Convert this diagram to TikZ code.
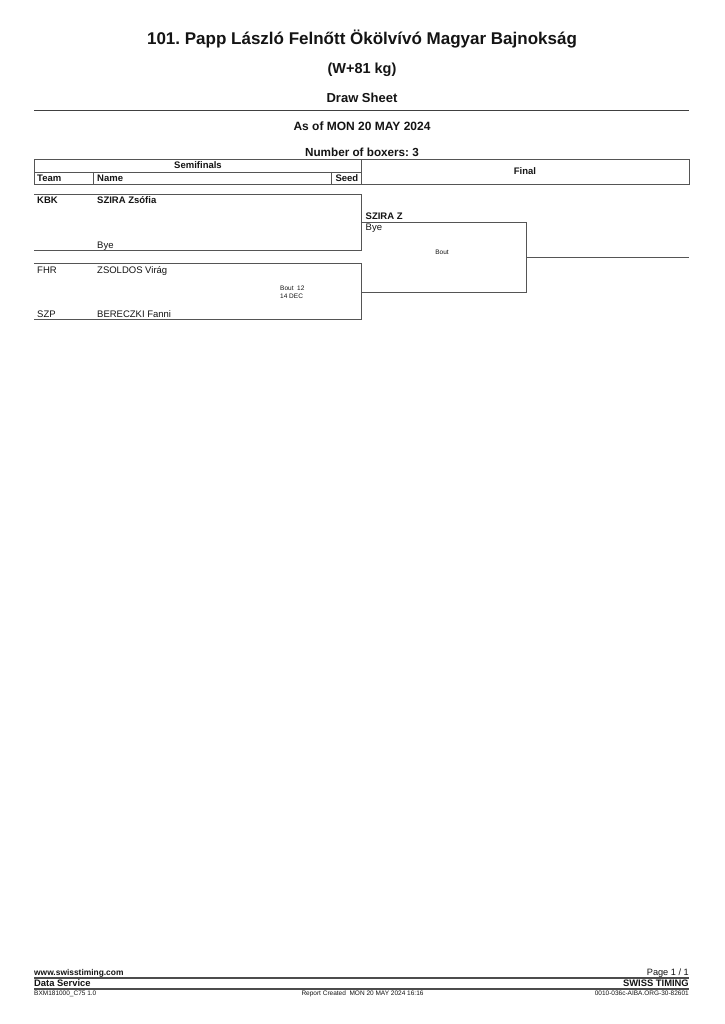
\documentclass[tikz,border=0pt]{standalone}
\usepackage{fontspec}
\setmainfont{Liberation Sans}
\definecolor{lc}{RGB}{85,85,85}
\definecolor{tc}{RGB}{20,20,20}
\frenchspacing
\begin{document}
\begin{tikzpicture}[x=1pt,y=-1pt,
  ln/.style={draw=lc, line width=0.9pt},
  tl/.style={inner sep=0pt, anchor=base west, text=tc},
  tr/.style={inner sep=0pt, anchor=base east, text=tc},
  tm/.style={inner sep=0pt, anchor=base, text=tc},
  fb/.style={font=\fontsize{9.5}{11}\selectfont\bfseries},
  fr/.style={font=\fontsize{9.5}{11}\selectfont},
  fs/.style={font=\fontsize{6.5}{8}\selectfont},
]
\useasboundingbox[fill=white] (0,0) rectangle (724,1024);

% ---------- heading ----------
\node[tm, font=\fontsize{17}{20}\selectfont\bfseries] (title) at (362,44.3) {101. Papp László Felnőtt Ökölvívó Magyar Bajnokság};
\node[tm, font=\fontsize{14.5}{17}\selectfont\bfseries] (cat) at (362,74) {(W+81 kg)};
\node[tm, font=\fontsize{13}{15}\selectfont\bfseries] (sheet) at (362,102.7) {Draw Sheet};
\draw[ln, draw=black!75] (34,110) -- (689,110);
\node[tm, font=\fontsize{12}{14}\selectfont\bfseries] (asof) at (362,130.3) {As of MON 20 MAY 2024};
\node[tm, font=\fontsize{11.7}{14}\selectfont\bfseries] (nbox) at (362,156.2) {Number of boxers: 3};

% ---------- column headers ----------
\draw[ln] (34,159) rectangle (361,184);
\draw[ln] (34,172) -- (361,172);
\draw[ln] (93,172) -- (93,184);
\draw[ln] (331,172) -- (331,184);
\draw[ln] (361,159) rectangle (689,184);
\node[tm, fb] (hsemi) at (198,169) {Semifinals};
\node[tm, fb] (hfinal) at (525,174.5) {Final};
\node[tl, fb] (hteam) at (37,181.5) {Team};
\node[tl, fb] (hname) at (97,181.5) {Name};
\node[tr, fb] (hseed) at (358.5,181.5) {Seed};

% ---------- semifinal 1 ----------
\coordinate (e1tl) at (34,194);
\coordinate (e1tr) at (361,194);
\coordinate (e1br) at (361,250.5);
\coordinate (e1bl) at (34,250.5);
\draw[ln] (e1tl) -- (e1tr) -- (e1br) -- (e1bl);
\node[tl, fb] (t1) at (37,203.5) {KBK};
\node[tl, fb] (n1) at (97,203.5) {SZIRA Zsófia};
\node[tl, fr] (n2) at (97,248) {Bye};

% ---------- semifinal 2 ----------
\coordinate (e2tl) at (34,263.5);
\coordinate (e2tr) at (361,263.5);
\coordinate (e2br) at (361,319.5);
\coordinate (e2bl) at (34,319.5);
\draw[ln] (e2tl) -- (e2tr) -- (e2br) -- (e2bl);
\node[tl, fr] (t3) at (37,273) {FHR};
\node[tl, fr] (n3) at (97,273) {ZSOLDOS Virág};
\node[tl, fs] (b12) at (280,290.3) {Bout\ \ 12};
\node[tl, fs] (d12) at (280,298.3) {14 DEC};
\node[tl, fr] (t4) at (37,317.5) {SZP};
\node[tl, fr] (n4) at (97,317.5) {BERECZKI Fanni};

% ---------- final ----------
\coordinate (ftl) at (361,222);
\coordinate (ftr) at (526,222);
\coordinate (fbr) at (526,292);
\coordinate (fbl) at (361,292);
\coordinate (fout) at (526,257);
\coordinate (fend) at (689,257);
\draw[ln] (ftl) -- (ftr) -- (fbr) -- (fbl);
\draw[ln] (fout) -- (fend);
\node[tl, fb] (w1) at (365.5,219.8) {SZIRA Z};
\node[tl, fr] (w2) at (365.5,231) {Bye};
\node[tm, fs] (bf) at (442,254.3) {Bout};

% ---------- footer ----------
\node[tl, font=\fontsize{8.4}{10}\selectfont\bfseries] (web) at (34,975.3) {www.swisstiming.com};
\node[tr, font=\fontsize{9.2}{11}\selectfont] (page) at (689,975.3) {Page 1 / 1};
\draw[ln, draw=black!70, line width=1.1pt] (34,978) -- (689,978);
\node[tl, font=\fontsize{9.4}{11}\selectfont\bfseries] (ds) at (34,986.8) {Data Service};
\node[tr, font=\fontsize{9.4}{11}\selectfont\bfseries] (st) at (689,986.8) {SWISS TIMING};
\draw[ln, draw=black!70, line width=1.1pt] (34,989) -- (689,989);
\node[tl, fs] (code) at (34,995.6) {BXM181000\_C75 1.0};
\node[tm, fs] (rep) at (362.5,995.6) {Report Created\ \ MON 20 MAY 2024 16:16};
\node[tr, fs] (ref) at (689,995.6) {0010-036c-AIBA.ORG-30-82601};
\end{tikzpicture}
\end{document}
